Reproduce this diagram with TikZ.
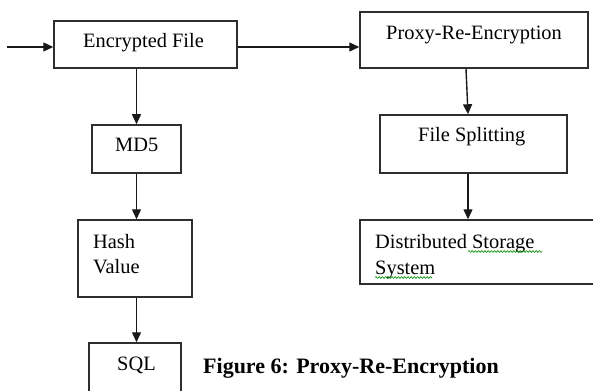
\documentclass[tikz,border=0pt]{standalone}
\usepackage{fontspec}
\setmainfont{Liberation Serif}
\usetikzlibrary{arrows.meta,calc,decorations.pathmorphing}
\begin{document}
\begin{tikzpicture}[x=1pt,y=-1pt,
  box/.style={draw=black!82,line width=1.5pt,rectangle,inner sep=0pt},
  lbl/.style={anchor=base west,inner sep=0pt,font=\fontsize{20.4}{25}\selectfont},
  arr/.style={draw=black!90,line width=1.4pt,-{Triangle[length=10pt,width=9pt]}},
  spell/.style={draw=green!55!black,line width=0.6pt,decorate,
    decoration={snake,segment length=3.2pt,amplitude=0.9pt}}]
\useasboundingbox (0,0) rectangle (593,390);
\clip (0,0) rectangle (593,390);
\fill[white] (0,0) rectangle (593,390);

% boxes (corner to corner)
\node[box,minimum width=183pt,minimum height=47pt] (enc) at (145.5,44.5) {};
\node[box,minimum width=228pt,minimum height=56pt] (prx) at (474,40) {};
\node[box,minimum width=89pt,minimum height=48pt] (md5) at (136.5,149) {};
\node[box,minimum width=187pt,minimum height=58pt] (fs) at (473.5,144) {};
\node[box,minimum width=114pt,minimum height=77pt] (hash) at (135,258.5) {};
\node[box,minimum width=250pt,minimum height=64pt] (dss) at (485,252) {};
\node[box,minimum width=92pt,minimum height=60pt] (sql) at (135,373) {};

% box texts
\node[lbl] (encT) at (83,48) {Encrypted File};
\node[lbl] (prxT) at (386,40) {Proxy-Re-Encryption};
\node[lbl] (md5T) at (115,151) {MD5};
\node[lbl] (fsT) at (418,142) {File Splitting};
\node[lbl] (hashT1) at (93,248) {Hash};
\node[lbl] (hashT2) at (93,273) {Value};
\node[lbl] (dssT1) at (375,248) {Distributed Storage};
\node[lbl] (dssT2) at (375,274) {System};
\node[lbl] (sqlT) at (117,370) {SQL};
\node[lbl,font=\fontsize{22}{26}\selectfont\bfseries] (cap) at (203,373) {Figure 6: Proxy-Re-Encryption};

% spell-check marks
\draw[spell] (468,251.5) -- (542,251.5);
\draw[spell] (375,277.5) -- (432,277.5);

% connectors
\coordinate (in) at (7,47);
\draw[arr] (in) -- (in -| enc.west);
\draw[arr] (enc.east |- in) -- (prx.west |- in);
\draw[arr] (md5.north |- enc.south) -- (md5.north);
\draw[arr] (md5.south) -- (hash.north -| md5.south);
\draw[arr] (hash.south -| md5.south) -- (sql.north -| md5.south);
\draw[arr] ($(prx.south)+(-8,0)$) -- ($(fs.north)+(-5.5,0)$);
\coordinate (fsout) at ($(fs.south)+(-5.5,0)$);
\draw[arr] (fsout) -- (fsout |- dss.north);
\end{tikzpicture}
\end{document}
